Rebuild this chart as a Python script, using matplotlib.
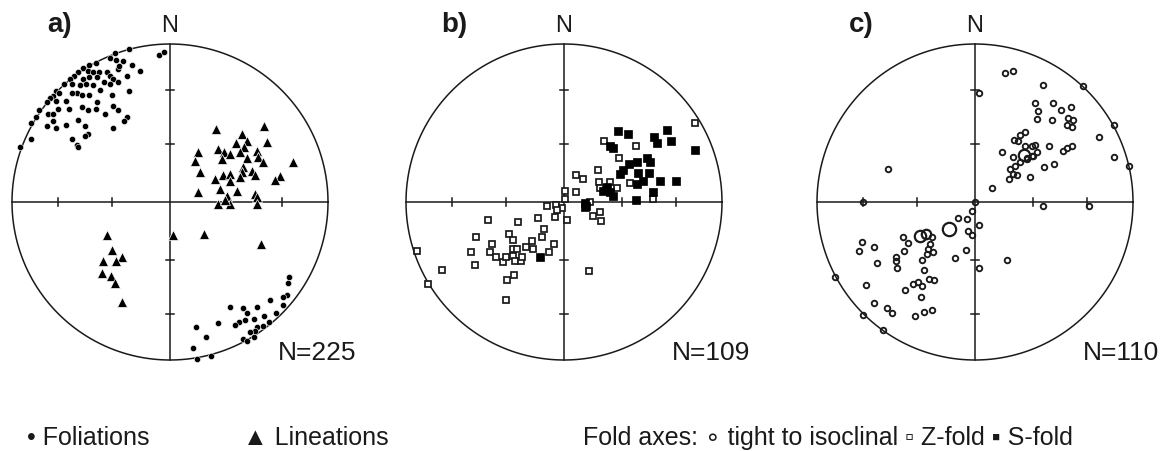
import numpy as np
import matplotlib
matplotlib.use("Agg")
import matplotlib.pyplot as plt

plt.rcParams['font.family'] = ['Liberation Sans', 'DejaVu Sans']

# ---------------- data (east, north) in units of the primitive-circle radius ----------------
# Panel a: poles to foliation
fol_x = [-0.26, -0.07, -0.04, -0.35, -0.38, -0.34, -0.30, -0.47, -0.51, -0.24, -0.19, -0.55,
         -0.52, -0.58, -0.61, -0.33, -0.32, -0.49, -0.45, -0.40, -0.63, -0.67, -0.55, -0.51,
         -0.46, -0.38, -0.36, -0.33, -0.42, -0.27, -0.72, -0.70, -0.74, -0.62, -0.57, -0.53,
         -0.49, -0.44, -0.38, -0.59, -0.62, -0.26, -0.51, -0.56, -0.76, -0.78, -0.72, -0.66,
         -0.71, -0.64, -0.56, -0.52, -0.47, -0.46, -0.37, -0.36, -0.33, -0.27, -0.29, -0.83,
         -0.85, -0.88, -0.77, -0.74, -0.74, -0.78, -0.72, -0.66, -0.58, -0.54, -0.52, -0.54,
         -0.41, -0.36, -0.62, -0.59, -0.58, -0.88, -0.95,
         0.755, 0.749, 0.743, 0.713, 0.717, 0.633, 0.553, 0.464, 0.380, 0.485, 0.595, 0.671,
         0.532, 0.475, 0.439, 0.411, 0.629, 0.591, 0.549, 0.538, 0.506, 0.460, 0.485, 0.532,
         0.306, 0.165, 0.226, 0.143, 0.173, 0.257]
fol_y = [0.97, 0.93, 0.95, 0.94, 0.91, 0.90, 0.89, 0.88, 0.87, 0.87, 0.83, 0.85,
         0.83, 0.82, 0.80, 0.84, 0.86, 0.82, 0.82, 0.82, 0.78, 0.75, 0.78, 0.79,
         0.79, 0.80, 0.78, 0.76, 0.76, 0.80, 0.70, 0.69, 0.67, 0.75, 0.74, 0.75,
         0.74, 0.71, 0.75, 0.69, 0.69, 0.70, 0.68, 0.68, 0.66, 0.63, 0.64, 0.64,
         0.59, 0.59, 0.60, 0.58, 0.59, 0.63, 0.68, 0.61, 0.58, 0.54, 0.51, 0.58,
         0.54, 0.50, 0.56, 0.56, 0.51, 0.48, 0.47, 0.49, 0.52, 0.48, 0.43, 0.42,
         0.56, 0.47, 0.40, 0.36, 0.35, 0.40, 0.35,
         -0.477, -0.513, -0.589, -0.603, -0.652, -0.618, -0.667, -0.671, -0.667, -0.705, -0.719, -0.702,
         -0.741, -0.747, -0.757, -0.778, -0.762, -0.783, -0.793, -0.814, -0.821, -0.867, -0.878, -0.857,
         -0.768, -0.789, -0.857, -0.926, -0.994, -0.973]

# Panel a: lineations
lin_x = [0.289, 0.595, 0.454, 0.485, 0.416, 0.612, 0.470, 0.306, 0.344, 0.380, 0.443, 0.549,
         0.179, 0.327, 0.485, 0.559, 0.591, 0.158, 0.781, 0.464, 0.454, 0.517, 0.190, 0.338,
         0.380, 0.443, 0.538, 0.696, 0.665, 0.285, 0.380, 0.316, 0.422, 0.179, 0.538, 0.359,
         0.306, 0.380, 0.549, 0.549, 0.348,
         -0.397, 0.021, 0.215, 0.576, -0.369, -0.306, -0.426, -0.342, -0.432, -0.373, -0.348, -0.306]
lin_y = [0.462, 0.479, 0.430, 0.388, 0.373, 0.378, 0.346, 0.335, 0.319, 0.304, 0.314, 0.325,
         0.314, 0.272, 0.276, 0.283, 0.251, 0.262, 0.251, 0.219, 0.188, 0.198, 0.188, 0.171,
         0.177, 0.156, 0.171, 0.167, 0.141, 0.146, 0.135, 0.082, 0.072, 0.061, 0.051, 0.040,
         -0.013, -0.013, 0.030, -0.013, 0.015,
         -0.209, -0.209, -0.203, -0.266, -0.304, -0.346, -0.371, -0.371, -0.449, -0.470, -0.515, -0.631]

# Panel b: Z-fold axes (open squares)
zf_x = [0.831, 0.255, 0.456, 0.350, 0.074, 0.118, 0.213, 0.006, 0.076, 0.224, 0.418, 0.333,
        0.006, 0.561, 0.228, 0.291,
        -0.105, -0.053, -0.015, -0.046, 0.017, 0.165, 0.181, 0.228, 0.232, -0.167, -0.057,
        -0.293, -0.483, -0.557, -0.346, -0.325, -0.127, -0.141, -0.205, -0.241, -0.198, -0.063,
        -0.093, -0.458, -0.468, -0.430, -0.384, -0.367, -0.325, -0.310, -0.274, -0.268, -0.325,
        -0.295, -0.589, -0.563, -0.932, -0.770, -0.859, -0.314, -0.363, -0.367, 0.160]
zf_y = [0.498, 0.384, 0.357, 0.276, 0.173, 0.146, 0.205, 0.072, 0.065, 0.129, 0.120, 0.086,
        0.019, 0.019, 0.086, 0.129,
        -0.023, -0.019, -0.040, -0.049, -0.114, -0.002, -0.086, -0.061, -0.122, -0.101, -0.097,
        -0.129, -0.114, -0.219, -0.203, -0.238, -0.171, -0.219, -0.245, -0.283, -0.297, -0.266,
        -0.319, -0.266, -0.319, -0.350, -0.378, -0.350, -0.340, -0.376, -0.371, -0.350, -0.297,
        -0.297, -0.314, -0.399, -0.308, -0.430, -0.519, -0.460, -0.492, -0.620, -0.435]

# Panel b: S-fold axes (filled squares)
sf_x = [0.344, 0.403, 0.570, 0.650, 0.677, 0.586, 0.831, 0.291, 0.308, 0.523, 0.460, 0.414,
        0.376, 0.354, 0.470, 0.544, 0.540, 0.502, 0.608, 0.709, 0.460, 0.565, 0.454, 0.270,
        0.249, 0.291, 0.312, 0.133, 0.133, 0.139, -0.152]
sf_y = [0.451, 0.430, 0.414, 0.456, 0.384, 0.373, 0.331, 0.357, 0.340, 0.276, 0.255, 0.241,
        0.205, 0.177, 0.184, 0.251, 0.184, 0.135, 0.135, 0.135, 0.114, 0.065, 0.015, 0.093,
        0.072, 0.061, 0.040, -0.006, -0.034, -0.023, -0.350]

# Panel c: tight to isoclinal fold axes (open circles)
ti_x = [0.190, 0.238, 0.027, 0.432, 0.686, 0.380, 0.492, 0.401, 0.544, 0.608, 0.395, 0.485,
        0.591, 0.622, 0.580, 0.616, 0.880, 0.785, 0.316, 0.285, 0.249, 0.274, 0.169, 0.316,
        0.359, 0.380, 0.470, 0.559, 0.580, 0.612, 0.390, 0.369, 0.238, 0.327, 0.253, 0.285,
        0.222, 0.243, 0.268, 0.217, 0.348, 0.437, 0.500, 0.880, 0.977, 0.105, 0.000, 0.432,
        0.724, 0.330, 0.360, -0.551, 0.200,
        -0.711, -0.021, -0.053, -0.105, -0.046, -0.017, -0.454, -0.422, -0.274, -0.285, -0.295,
        -0.264, -0.306, -0.447, -0.717, -0.732, -0.637, -0.618, -0.500, -0.500, -0.492, -0.338,
        -0.321, -0.059, -0.127, 0.027, 0.025, -0.886, -0.690, -0.443, -0.390, -0.363, -0.338,
        -0.289, -0.257, -0.342, -0.637, -0.559, -0.523, -0.711, -0.380, -0.321, -0.274, -0.584]
ti_y = [0.814, 0.829, 0.688, 0.741, 0.734, 0.627, 0.627, 0.574, 0.582, 0.603, 0.525, 0.519,
        0.532, 0.519, 0.489, 0.473, 0.487, 0.414, 0.445, 0.424, 0.392, 0.388, 0.314, 0.357,
        0.352, 0.361, 0.352, 0.325, 0.340, 0.352, 0.319, 0.289, 0.283, 0.272, 0.230, 0.251,
        0.209, 0.177, 0.171, 0.146, 0.160, 0.219, 0.241, 0.283, 0.226, 0.086, 0.000, -0.023,
        -0.023, 0.280, 0.290, 0.209, -0.370,
        -0.002, -0.059, -0.110, -0.101, -0.181, -0.209, -0.224, -0.259, -0.224, -0.266, -0.297,
        -0.319, -0.329, -0.308, -0.251, -0.312, -0.287, -0.388, -0.350, -0.376, -0.418, -0.367,
        -0.428, -0.304, -0.357, -0.418, -0.146, -0.477, -0.523, -0.555, -0.519, -0.508, -0.530,
        -0.487, -0.492, -0.599, -0.641, -0.671, -0.703, -0.715, -0.724, -0.694, -0.681, -0.808]

# Panel c: clusters of coincident measurements (larger circles), with number of measurements
cl_x = [0.310, -0.162, -0.310, -0.348]
cl_y = [0.297, -0.171, -0.203, -0.217]
cl_n = [3, 4, 2, 3]

panel_labels = ['a)', 'b)', 'c)']
panel_counts = ['N=225', 'N=109', 'N=110']
legend_items = ['\u2022 Foliations', '\u25b2 Lineations',
                'Fold axes: \u2218 tight to isoclinal \u25ab Z-fold \u25aa S-fold']

# ---------------- layout ----------------
W, H = 1162, 452
R = 158.0
centers = [(170, 203), (564, 203), (975, 203)]
L = 1.25
INK = '#1a1a1a'

fig = plt.figure(figsize=(W / 100, H / 100), dpi=100)
fig.patch.set_facecolor('white')

axes = []
for (cx, cy) in centers:
    ax = fig.add_axes([(cx - L * R) / W, 1 - (cy + L * R) / H, 2 * L * R / W, 2 * L * R / H])
    ax.set_xlim(-L, L)
    ax.set_ylim(-L, L)
    ax.set_aspect('equal')
    ax.axis('off')
    t = np.linspace(0, 2 * np.pi, 400)
    ax.plot(np.cos(t), np.sin(t), color=INK, lw=1.1, zorder=1)
    ax.plot([-1, 1], [0, 0], color=INK, lw=1.1, zorder=1)
    ax.plot([0, 0], [-1, 1], color=INK, lw=1.1, zorder=1)
    # equal-area ticks at 30 and 60 degrees plunge
    tk = 0.026
    for p in (30, 60):
        d = np.sqrt(2) * np.sin(np.radians(90 - p) / 2)
        for s in (-1, 1):
            ax.plot([s * d, s * d], [-tk, tk], color=INK, lw=1.1, zorder=1)
            ax.plot([-tk, tk], [s * d, s * d], color=INK, lw=1.1, zorder=1)
    axes.append(ax)

label_x = [-0.78, -0.78, -0.80]
for ax, lab, cnt, lx in zip(axes, panel_labels, panel_counts, label_x):
    ax.text(lx, 1.08, lab, fontsize=20, fontweight='bold', ha='left', va='baseline',
            color=INK, clip_on=False)
    ax.text(0, 1.08, 'N', fontsize=17, ha='center', va='baseline', color=INK, clip_on=False)
    ax.text(0.68, -0.994, cnt, fontsize=19, ha='left', va='baseline',
            color=INK, clip_on=False)

axA, axB, axC = axes
# panel a
axA.plot(fol_x, fol_y, 'o', ms=4.5, mfc='black', mec='white', mew=0.4, zorder=3, clip_on=False)
axA.plot(lin_x, lin_y, '^', ms=7.6, mfc='black', mec='white', mew=0.5, zorder=4, clip_on=False)

# panel b
axB.plot(zf_x, zf_y, 's', ms=4.1, mfc='white', mec=INK, mew=1.25, zorder=3, clip_on=False)
axB.plot(sf_x, sf_y, 's', ms=5.2, mfc='black', mec='black', mew=0.5, zorder=4, clip_on=False)

# panel c
axC.plot(ti_x, ti_y, 'o', ms=4.0, mfc='none', mec=INK, mew=1.35, zorder=3, clip_on=False)
for x, y, n in zip(cl_x, cl_y, cl_n):
    axC.plot([x], [y], 'o', ms=4.0 + 1.4 * n, mfc='none', mec=INK, mew=1.6, zorder=3,
             clip_on=False)

# legend text
for xpx, txt in zip([27, 243, 583], legend_items):
    fig.text(xpx / W, 1 - 445 / H, txt, fontsize=18, ha='left', va='baseline', color=INK)

fig.savefig('out.png', dpi=100, facecolor='white')
